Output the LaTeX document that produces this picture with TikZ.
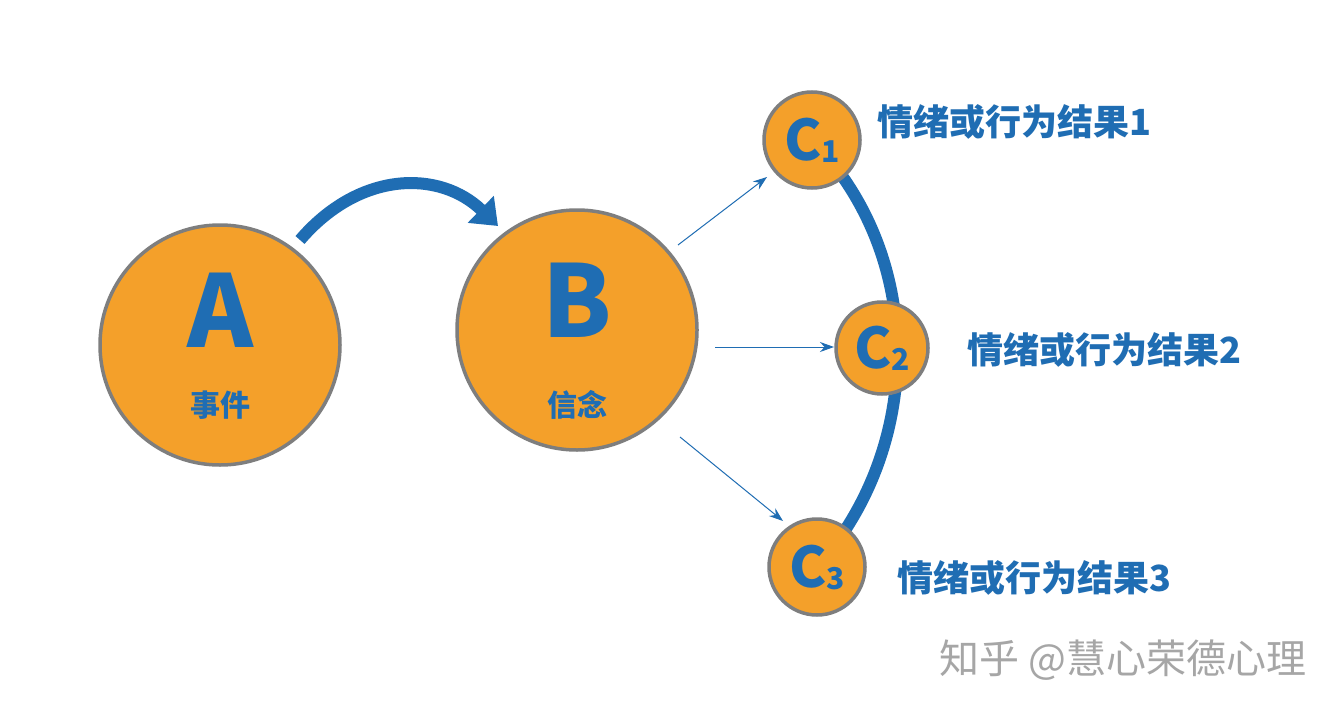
\documentclass[tikz,border=0pt]{standalone}
\usepackage{fontspec}
\newfontfamily\cjk{Noto Sans CJK SC}
\usetikzlibrary{arrows.meta}
\definecolor{org}{HTML}{F4A02A}
\definecolor{blu}{HTML}{1F6DB3}
\definecolor{rim}{HTML}{7E7E7E}
\tikzset{
 circ/.style={circle,fill=org,draw=rim,line width=3.5pt,inner sep=0pt},
 thin/.style={blu,line width=1pt,-{Stealth[length=14pt,width=10pt]}},
 lab/.style={text=blu,font=\cjk\bfseries\fontsize{36}{36}\selectfont,anchor=west},
}
\begin{document}
\begin{tikzpicture}[x=1pt,y=-1pt]
\useasboundingbox (0,0) rectangle (1340,714);
\fill[white] (0,0) rectangle (1340,714);
\draw[blu,line width=12pt] (812,140) .. controls (925,255) and (925,445) .. (817,567);
\node[circ,minimum size=240pt] (A) at (220,345) {};
\node[circ,minimum size=240pt] (B) at (577,330) {};
\node[circ,minimum size=96pt] (C1) at (812,140) {};
\node[circ,minimum size=92pt] (C2) at (882,348) {};
\node[circ,minimum size=96pt] (C3) at (817,567) {};
\node[text=blu,font=\cjk\bfseries\fontsize{100}{100}\selectfont] (Al) at (220,310) {A};
\node[text=blu,font=\cjk\bfseries\fontsize{30}{30}\selectfont] (At) at (220,405) {事件};
\node[text=blu,font=\cjk\bfseries\fontsize{100}{100}\selectfont] (Bl) at (577,300) {B};
\node[text=blu,font=\cjk\bfseries\fontsize{30}{30}\selectfont] (Bt) at (577,405) {信念};
\foreach \n/\i in {C1/1,C2/2,C3/3}{
 \node[text=blu,font=\cjk\bfseries\fontsize{56}{56}\selectfont] at (\n) {C\raisebox{-2pt}{\fontsize{30}{30}\selectfont\i}};
}
\coordinate (a1) at (300,240);
\coordinate (a2) at (498,226);
\draw[blu,line width=12pt,-{Triangle[length=24pt,width=36pt]}] (a1) .. controls (360,170) and (440,170) .. (a2);
\coordinate (b1) at (678,245); \coordinate (b2) at (715,347); \coordinate (b3) at (680,437);
\coordinate (c1) at (767,177); \coordinate (c2) at (834,347); \coordinate (c3) at (783,521);
\draw[thin] (b1) -- (c1);
\draw[thin] (b2) -- (c2);
\draw[thin] (b3) -- (c3);
\node[lab] (L1) at (874,122) {情绪或行为结果1};
\node[lab] (L2) at (964,350) {情绪或行为结果2};
\node[lab] (L3) at (894,578) {情绪或行为结果3};
\node[text=gray!70,font=\cjk\fontsize{40}{40}\selectfont,anchor=east] (W) at (1310,660) {知乎 @慧心荣德心理};
\end{tikzpicture}
\end{document}
